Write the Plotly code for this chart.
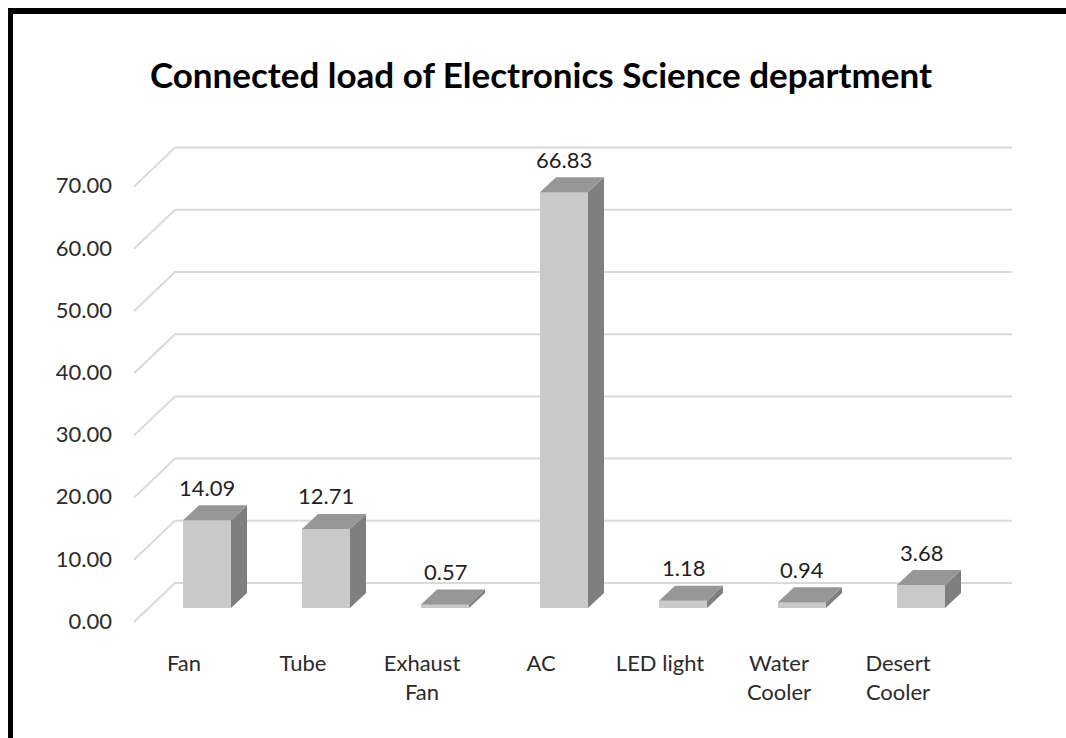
import plotly.graph_objects as go

# ---- data ----
categories = ["Fan", "Tube", "Exhaust<br>Fan", "AC", "LED light", "Water<br>Cooler", "Desert<br>Cooler"]
loads = [14.09, 12.71, 0.57, 66.83, 1.18, 0.94, 3.68]
y_ticks = [0, 10, 20, 30, 40, 50, 60, 70]
y_tick_labels = [f"{t:.2f}" for t in y_ticks]
title_text = "Connected load of Electronics Science department"

# ---- geometry (pixels) ----
W, H = 1066, 738
BOX_L, BOX_R, BOX_T, BOX_B = 120, 1030, 120, 640   # plot area
CAT0_PX, CAT_STEP_PX = 207, 119                     # first category centre, spacing
ZERO_PX, UNIT_PX = 608, 6.22                         # value 0 position, px per unit

X_RANGE = [(BOX_L - CAT0_PX) / CAT_STEP_PX, (BOX_R - CAT0_PX) / CAT_STEP_PX]
Y_RANGE = [(ZERO_PX - BOX_B) / UNIT_PX, (ZERO_PX - BOX_T) / UNIT_PX]


def px_x(p):
    """absolute pixel column -> x data value"""
    return (p - CAT0_PX) / CAT_STEP_PX


def dx(p):
    return p / CAT_STEP_PX


def dy(p):
    return p / UNIT_PX


BAR_W = dx(48)
DEPTH_X, DEPTH_Y = dx(16), dy(15)          # bar depth (top / side faces)
WALL_FRONT_X, WALL_BACK_X, WALL_RIGHT_X = px_x(134), px_x(175), px_x(1012)
WALL_FRONT_DY, WALL_BACK_DY = dy(-14), dy(25)

FONT = "Lato, Open Sans, sans-serif"
GRID = "#D9D9D9"
FRONT, TOP, SIDE = "#C9C9C9", "#979797", "#7F7F7F"

xs = list(range(len(categories)))

fig = go.Figure()
fig.add_trace(go.Bar(
    x=xs, y=loads, width=BAR_W,
    marker=dict(color=FRONT, line=dict(width=0)),
    hoverinfo="skip", showlegend=False,
))

shapes = []
# back-wall gridlines with their floor diagonals
for t in y_ticks:
    path = (f"M {WALL_FRONT_X},{t + WALL_FRONT_DY} "
            f"L {WALL_BACK_X},{t + WALL_BACK_DY} "
            f"L {WALL_RIGHT_X},{t + WALL_BACK_DY}")
    shapes.append(dict(type="path", xref="x", yref="y", path=path, layer="below",
                       line=dict(color=GRID, width=2)))

# 3D top and side faces of each bar
for x, v in zip(xs, loads):
    x0, x1 = x - BAR_W / 2, x + BAR_W / 2
    top = (f"M {x0},{v} L {x1},{v} L {x1 + DEPTH_X},{v + DEPTH_Y} "
           f"L {x0 + DEPTH_X},{v + DEPTH_Y} Z")
    side = (f"M {x1},0 L {x1},{v} L {x1 + DEPTH_X},{v + DEPTH_Y} "
            f"L {x1 + DEPTH_X},{DEPTH_Y} Z")
    shapes.append(dict(type="path", xref="x", yref="y", path=side,
                       fillcolor=SIDE, line=dict(width=0)))
    shapes.append(dict(type="path", xref="x", yref="y", path=top,
                       fillcolor=TOP, line=dict(width=0)))

# outer frame (top and left edges)
shapes.append(dict(type="rect", xref="paper", yref="paper",
                   x0=8 / W, x1=1.0, y0=1 - 14 / H, y1=1 - 8 / H,
                   fillcolor="black", line=dict(width=0)))
shapes.append(dict(type="rect", xref="paper", yref="paper",
                   x0=8 / W, x1=13 / W, y0=0.0, y1=1 - 8 / H,
                   fillcolor="black", line=dict(width=0)))

annotations = [
    dict(x=x, y=v, xref="x", yref="y", text=f"{v:.2f}", showarrow=False,
         yshift=33, yanchor="middle", font=dict(family=FONT, size=22, color="#1F1F1F"))
    for x, v in zip(xs, loads)
]

fig.update_layout(
    width=W, height=H,
    margin=dict(l=0, r=0, t=0, b=0),
    paper_bgcolor="white", plot_bgcolor="rgba(0,0,0,0)",
    title=dict(text=f"<b>{title_text}</b>", x=541 / W, xanchor="center",
               y=1 - 76 / H, yanchor="middle",
               font=dict(family=FONT, size=35, color="black")),
    xaxis=dict(domain=[BOX_L / W, BOX_R / W], range=X_RANGE,
               tickmode="array", tickvals=xs, ticktext=categories,
               showgrid=False, zeroline=False, showline=False, ticks="",
               ticklabelshift=-23, ticklabelstandoff=8,
               tickfont=dict(family=FONT, size=22, color="#2B2B2B")),
    yaxis=dict(domain=[1 - BOX_B / H, 1 - BOX_T / H], range=Y_RANGE,
               tickmode="array", tickvals=y_ticks, ticktext=y_tick_labels,
               showgrid=False, zeroline=False, showline=False, ticks="",
               ticklabelshift=13, ticklabelstandoff=7,
               tickfont=dict(family=FONT, size=22, color="#2B2B2B")),
    shapes=shapes,
    annotations=annotations,
    bargap=0,
)

fig.write_html("out.html")
